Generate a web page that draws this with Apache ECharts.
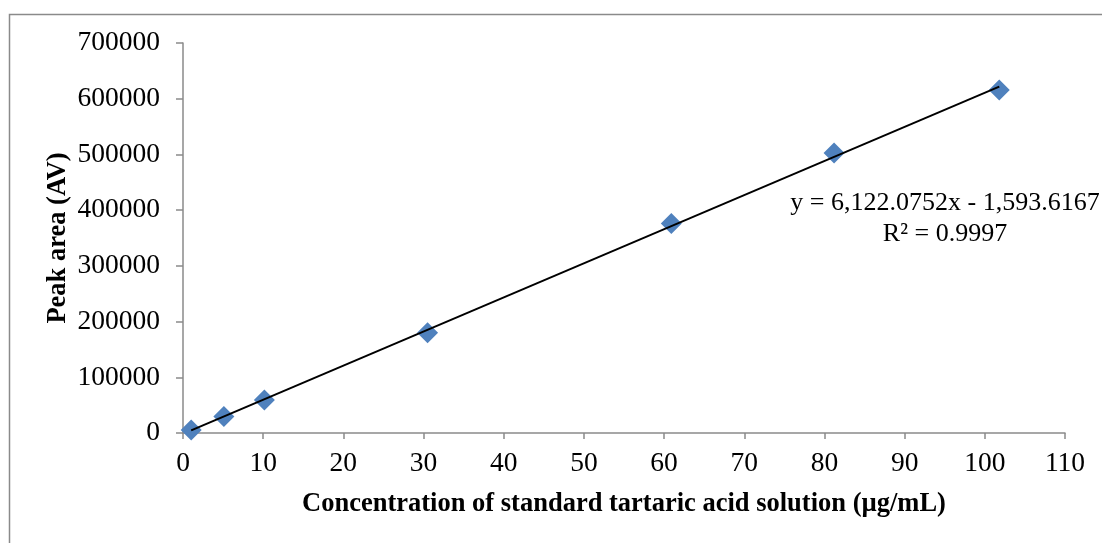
<!DOCTYPE html>
<html>
<head>
<meta charset="utf-8">
<style>
  html, body { margin: 0; padding: 0; background: #ffffff; }
  #chart { width: 1102px; height: 543px; }
</style>
<script src="https://cdn.jsdelivr.net/npm/echarts@6/dist/echarts.min.js"></script>
</head>
<body>
<div id="chart"></div>
<script>
// Calibration points: standard tartaric acid concentrations and measured peak areas
const concentration = [1.02, 5.1, 10.15, 30.5, 60.9, 81.2, 101.8];
const peakArea = [5400, 29500, 59200, 180000, 376000, 502700, 615700];

// Linear fit reported on the chart
const slope = 6122.0752;
const intercept = -1593.6167;
const rSquared = '0.9997';
const equationText = 'y = 6,122.0752x - 1,593.6167';

// Trend line spans the measured concentration range
const xMin = Math.min(...concentration);
const xMax = Math.max(...concentration);
const trendLine = [
  [xMin, slope * xMin + intercept],
  [xMax, slope * xMax + intercept]
];

const serif = '"Liberation Serif", "Times New Roman", serif';
const axisGray = '#8a8a8a';

const chart = echarts.init(document.getElementById('chart'), null, { renderer: 'canvas' });

chart.setOption({
  animation: false,
  backgroundColor: '#ffffff',
  grid: { left: 183, right: 37, top: 43, bottom: 110, containLabel: false },
  xAxis: {
    type: 'value',
    min: 0,
    max: 110,
    interval: 10,
    name: 'Concentration of standard tartaric acid solution (\u00b5g/mL)',
    nameLocation: 'middle',
    nameGap: 58,
    nameMoveOverlap: false,
    nameTextStyle: { fontFamily: serif, fontSize: 26.5, fontWeight: 'bold', color: '#000' },
    axisLine: { show: true, onZero: false, lineStyle: { color: axisGray, width: 1.5 } },
    axisTick: { show: true, length: 6, lineStyle: { color: axisGray, width: 1.5 } },
    axisLabel: { fontFamily: serif, fontSize: 27.5, color: '#000', margin: 17 },
    splitLine: { show: false }
  },
  yAxis: {
    type: 'value',
    min: 0,
    max: 700000,
    interval: 100000,
    name: 'Peak area (AV)',
    nameLocation: 'middle',
    nameGap: 111,
    nameMoveOverlap: false,
    nameRotate: 90,
    nameTextStyle: { fontFamily: serif, fontSize: 26.5, fontWeight: 'bold', color: '#000' },
    axisLine: { show: true, lineStyle: { color: axisGray, width: 1.5 } },
    axisTick: { show: true, length: 7, lineStyle: { color: axisGray, width: 1.5 } },
    axisLabel: {
      fontFamily: serif, fontSize: 27.5, color: '#000', margin: 23,
      formatter: (v) => String(v)
    },
    splitLine: { show: false }
  },
  series: [
    {
      name: 'Peak area',
      type: 'scatter',
      data: concentration.map((c, i) => [c, peakArea[i]]),
      symbol: 'diamond',
      symbolSize: 21,
      itemStyle: { color: '#4f81bd', opacity: 1 },
      z: 2
    },
    {
      name: 'Linear fit',
      type: 'line',
      data: trendLine,
      showSymbol: false,
      symbol: 'none',
      lineStyle: { color: '#000', width: 2 },
      z: 3
    }
  ],
  graphic: [
    {
      type: 'rect',
      left: 7,
      top: 12,
      shape: { width: 1300, height: 700 },
      style: { fill: 'none', stroke: '#8a8a8a', lineWidth: 1.5 },
      silent: true,
      z: -1
    },
    {
      type: 'text',
      x: 945,
      y: 188,
      style: {
        text: equationText + '\nR\u00b2 = ' + rSquared,
        font: '26px ' + serif,
        fill: '#000',
        align: 'center',
        verticalAlign: 'top',
        lineHeight: 31
      },
      z: 5
    }
  ]
});
</script>
</body>
</html>
